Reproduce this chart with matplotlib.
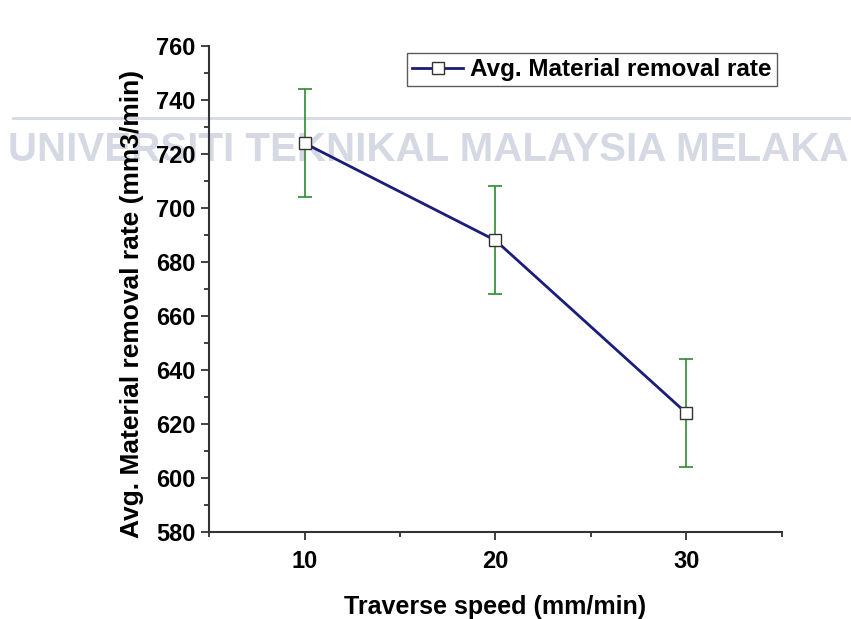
import matplotlib.pyplot as plt
from matplotlib.ticker import MultipleLocator

speed = [10, 20, 30]
mrr = [724, 688, 624]
err = [20, 20, 20]

plt.rcParams['font.family'] = ['Liberation Sans', 'DejaVu Sans']

fig = plt.figure(figsize=(8.51, 6.19), dpi=100)
ax = fig.add_axes([0.2456, 0.1406, 0.6733, 0.7851])

# watermark, behind the axes
wm = '#d5d9e3'
fig.text(0.503, 0.757, 'UNIVERSITI TEKNIKAL MALAYSIA MELAKA', fontsize=29,
         fontweight='bold', color=wm, ha='center', va='center', zorder=-1)
fig.add_artist(plt.Line2D([0.015, 1.0], [0.81, 0.81], color=wm, lw=2, zorder=-1))

ax.errorbar(speed, mrr, yerr=err, fmt='none', ecolor='#2e8b2e', elinewidth=1.2,
            capsize=5, capthick=1.2, zorder=2)
ax.plot(speed, mrr, color='#1c1c7a', lw=2, marker='s', ms=9,
        mfc='white', mec='#333333', mew=1, label='Avg. Material removal rate', zorder=3)

ax.set_xlim(5, 35)
ax.set_ylim(580, 760)
ax.xaxis.set_major_locator(MultipleLocator(10))
ax.xaxis.set_minor_locator(MultipleLocator(5))
ax.yaxis.set_major_locator(MultipleLocator(20))
ax.yaxis.set_minor_locator(MultipleLocator(10))
for s in ['top', 'right']:
    ax.spines[s].set_visible(False)
for s in ['left', 'bottom']:
    ax.spines[s].set_color('#333333')
    ax.spines[s].set_linewidth(1.5)
ax.tick_params(which='major', length=6, width=1.3, color='#333333', labelsize=17)
ax.tick_params(which='minor', length=3.5, width=1.3, color='#333333')
for lab in ax.get_xticklabels() + ax.get_yticklabels():
    lab.set_fontweight('bold')
ax.tick_params(axis='x', pad=7)
ax.patch.set_alpha(0)

ax.set_xlabel('Traverse speed (mm/min)', fontsize=18, fontweight='bold', labelpad=16)
ax.set_ylabel('Avg. Material removal rate (mm3/min)', fontsize=19, fontweight='bold')
ax.yaxis.set_label_coords(-0.114, 0.469)

leg = ax.legend(loc='upper right', bbox_to_anchor=(0.991, 0.985), fontsize=17.5,
                frameon=True, fancybox=False, handlelength=2.1, handletextpad=0.3,
                borderpad=0.2, borderaxespad=0)
leg.get_frame().set_edgecolor('#333333')
leg.get_frame().set_linewidth(1)
for t in leg.get_texts():
    t.set_fontweight('bold')

fig.savefig('out.png', dpi=100)
